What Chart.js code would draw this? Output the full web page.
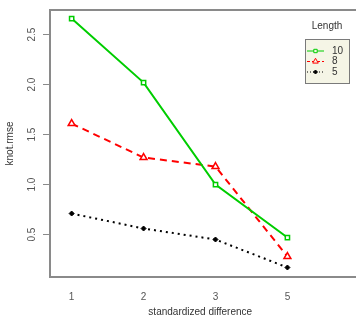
<!DOCTYPE html>
<html>
<head>
<meta charset="utf-8">
<script src="https://cdn.jsdelivr.net/npm/chart.js@4.4.1/dist/chart.umd.min.js"></script>
<style>
  html, body { margin: 0; padding: 0; background: #ffffff; }
  canvas { display: block; }
</style>
</head>
<body>
<canvas id="grafico" width="356" height="332"></canvas>
<script>
// Datos
const categorias = ["1", "2", "3", "5"];
const serieLongitud10 = [2.66, 2.02, 1.0, 0.47];
const serieLongitud8 = [1.61, 1.27, 1.18, 0.28];
const serieLongitud5 = [0.71, 0.56, 0.45, 0.17];
const marcasY = [0.5, 1.0, 1.5, 2.0, 2.5];
const tituloLeyenda = "Length";

const FUENTE = "'Liberation Sans', Arial, sans-serif";

const puntos = (serie) => serie.map((v, i) => ({ x: i + 1, y: v }));

// Caja de ejes al estilo R (sin borde derecho, queda fuera del lienzo)
const cajaEjes = {
  id: "cajaEjes",
  afterDraw(chart) {
    const { ctx, chartArea: a } = chart;
    ctx.save();
    ctx.strokeStyle = "#8a8a8a";
    ctx.lineWidth = 2;
    ctx.beginPath();
    ctx.moveTo(chart.width + 2, a.top);
    ctx.lineTo(a.left, a.top);
    ctx.lineTo(a.left, a.bottom);
    ctx.lineTo(chart.width + 2, a.bottom);
    ctx.stroke();
    ctx.restore();
  },
};

// Leyenda dibujada dentro del área del gráfico, con recuadro beige
const leyendaR = {
  id: "leyendaR",
  afterDraw(chart) {
    const { ctx } = chart;
    ctx.save();
    ctx.font = "10px " + FUENTE;
    ctx.fillStyle = "#333333";
    ctx.textAlign = "center";
    ctx.textBaseline = "middle";
    ctx.fillText(tituloLeyenda, 327, 26);

    ctx.fillStyle = "#f5f5e6";
    ctx.fillRect(305, 39, 45, 44);
    ctx.strokeStyle = "#7a7a7a";
    ctx.lineWidth = 1;
    ctx.strokeRect(305.5, 39.5, 44, 44);

    const filas = [51, 61.5, 72];
    chart.data.datasets.forEach((ds, i) => {
      const y = filas[i];
      ctx.strokeStyle = ds.borderColor;
      ctx.lineWidth = 1;
      ctx.setLineDash(ds.legendDash);
      ctx.beginPath();
      ctx.moveTo(307, y);
      ctx.lineTo(324, y);
      ctx.stroke();
      ctx.setLineDash([]);
      // fondo del marcador igual al de la leyenda para los símbolos huecos
      ctx.fillStyle = ds.pointBackgroundColor === "#ffffff" ? "#f5f5e6" : ds.pointBackgroundColor;
      ctx.strokeStyle = ds.pointBorderColor;
      Chart.helpers.drawPoint(ctx, {
        pointStyle: ds.pointStyle,
        radius: ds.pointRadius * 0.8,
        rotation: 0,
        borderWidth: 1,
      }, 315.5, y);
      ctx.fillStyle = "#333333";
      ctx.textAlign = "left";
      ctx.fillText(ds.label, 332, y);
    });
    ctx.restore();
  },
};

const ctx = document.getElementById("grafico").getContext("2d");

new Chart(ctx, {
  type: "line",
  data: {
    datasets: [
      {
        label: "10",
        data: puntos(serieLongitud10),
        borderColor: "#00cd00",
        borderWidth: 2,
        pointStyle: "rect",
        pointRadius: 3,
        pointBorderWidth: 1.5,
        pointBorderColor: "#00cd00",
        pointBackgroundColor: "#ffffff",
        legendDash: [],
      },
      {
        label: "8",
        data: puntos(serieLongitud8),
        borderColor: "#ff0000",
        borderWidth: 2,
        borderDash: [7, 5],
        pointStyle: "triangle",
        pointRadius: 4,
        pointBorderWidth: 1.5,
        pointBorderColor: "#ff0000",
        pointBackgroundColor: "#ffffff",
        legendDash: [3, 2],
      },
      {
        label: "5",
        data: puntos(serieLongitud5),
        borderColor: "#000000",
        borderWidth: 2,
        borderDash: [2, 4],
        pointStyle: "rectRot",
        pointRadius: 2.5,
        pointBorderWidth: 1,
        pointBorderColor: "#000000",
        pointBackgroundColor: "#000000",
        legendDash: [1, 2],
      },
    ],
  },
  options: {
    responsive: false,
    animation: false,
    layout: { padding: { top: 4, left: 0, right: 0, bottom: 0 } },
    plugins: {
      legend: { display: false },
      tooltip: { enabled: false },
    },
    scales: {
      x: {
        type: "linear",
        min: 0.699,
        max: 4.877,
        afterBuildTicks: (eje) => {
          eje.ticks = categorias.map((_, i) => ({ value: i + 1 }));
        },
        afterFit: (eje) => { eje.height = 55; },
        grid: { display: false },
        border: { display: false },
        ticks: {
          autoSkip: false,
          maxRotation: 0,
          padding: 6,
          color: "#555555",
          font: { family: FUENTE, size: 10 },
          callback: (v) => categorias[v - 1],
        },
        title: {
          display: true,
          text: "standardized difference",
          color: "#333333",
          font: { family: FUENTE, size: 10 },
          padding: { top: 0, bottom: 14 },
        },
      },
      y: {
        type: "linear",
        min: 0.075,
        max: 2.746,
        afterBuildTicks: (eje) => {
          eje.ticks = marcasY.map((v) => ({ value: v }));
        },
        afterFit: (eje) => { eje.width = 50; },
        grid: {
          display: true,
          drawOnChartArea: false,
          drawTicks: true,
          tickLength: 7,
          tickColor: "#8a8a8a",
          lineWidth: 1,
        },
        border: { display: false },
        ticks: {
          autoSkip: false,
          minRotation: 90,
          maxRotation: 90,
          crossAlign: "center",
          padding: 4,
          color: "#555555",
          font: { family: FUENTE, size: 10 },
          callback: (v) => v.toFixed(1),
        },
        title: {
          display: true,
          text: "knot.rmse",
          color: "#333333",
          font: { family: FUENTE, size: 10 },
          padding: { top: 4, bottom: 0 },
        },
      },
    },
  },
  plugins: [cajaEjes, leyendaR],
});
</script>
</body>
</html>
